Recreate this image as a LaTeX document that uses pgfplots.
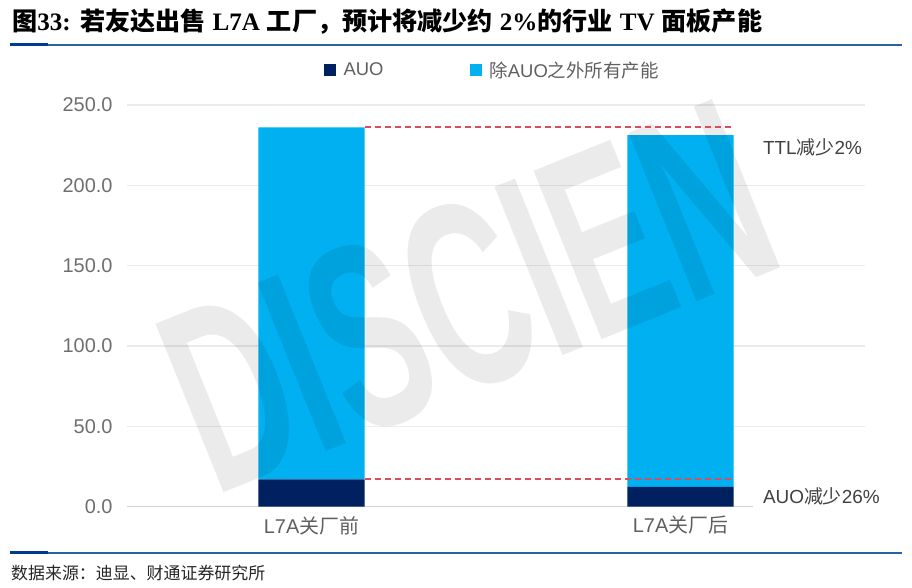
\documentclass[border=0pt]{standalone}
\usepackage{fontspec}
\usepackage{graphicx}
\usepackage{pgfplots}
\pgfplotsset{compat=1.18}
\setmainfont{Liberation Sans}
\newfontfamily\cjk{Noto Sans CJK SC}
\newfontfamily\serifl{Liberation Serif}
\definecolor{navy}{RGB}{0,32,96}
\definecolor{lblue}{RGB}{0,176,240}
\definecolor{dred}{RGB}{222,75,90}
\definecolor{gridgray}{RGB}{235,235,235}
\definecolor{zerogray}{RGB}{210,210,210}
\definecolor{tickgray}{RGB}{110,110,110}
\definecolor{labgray}{RGB}{95,95,95}
\definecolor{annogray}{RGB}{64,64,64}
\definecolor{tblue}{RGB}{40,100,165}
\definecolor{tdblue}{RGB}{0,60,140}
\pgfplotstableread{
x auo other
0 17.0 219.1
1 12.3 219.0
}\capdata
\pgfplotstableread{
x ttl auo
0.144 236.1 17.0
1.144 236.1 17.0
}\refdata
\begin{document}
\begin{tikzpicture}[x=1bp,y=1bp]
\useasboundingbox (0,0) rectangle (912,588);
% title
\node[anchor=base west, inner sep=0] at (12,557) {\fontsize{25.2}{25.2}\selectfont\bfseries
{\cjk 图}{\serifl 33:} {\cjk 若友达出售} {\serifl L7A} {\cjk 工厂，预计将减少约} {\serifl 2\%}{\cjk 的行业} {\serifl TV} {\cjk 面板产能}};
\fill[tblue] (10,542.4) rectangle (902,543.6);
\fill[tdblue] (10,541.5) rectangle (48,544.5);
% footer
\fill[tblue] (10,34.4) rectangle (902,35.6);
\fill[tdblue] (10,33.5) rectangle (48,36.5);
\node[anchor=base west, inner sep=0, text=black!85] at (11,8) {\fontsize{17}{17}\selectfont\cjk 数据来源：迪显、财通证券研究所};
% background axis: zero line
\begin{axis}[at={(127bp,81.3bp)}, anchor=south west, scale only axis,
  width=738bp, height=401.7bp, xmin=-0.5, xmax=1.5, ymin=0, ymax=250,
  hide axis, clip=false]
\addplot[zerogray, line width=1.2bp] coordinates {(-0.5,0) (1.196,0)};
\end{axis}
% bars
\begin{axis}[at={(127bp,81.3bp)}, anchor=south west, scale only axis,
  width=738bp, height=401.7bp, xmin=-0.5, xmax=1.5, ymin=0, ymax=250,
  ybar stacked, bar width=0.288,
  axis line style={draw=none}, major tick length=0pt,
  xtick={0,1}, xticklabels={L7A{\cjk 关厂前}, L7A{\cjk 关厂后}},
  x tick label style={font=\fontsize{20}{20}\selectfont, text=labgray, yshift=-6bp},
  ytick={50,100,...,250}, extra y ticks={0}, extra y tick style={grid=none},
  ymajorgrids, grid style={gridgray, line width=1.1bp},
  scaled y ticks=false,
  yticklabel style={/pgf/number format/.cd, fixed, fixed zerofill, precision=1, /tikz/.cd},
  y tick label style={font=\fontsize{20}{20}\selectfont, text=tickgray, xshift=-11bp},
  /pgf/number format/assume math mode=true,
  legend columns=2,
  legend style={draw=none, fill=none, at={(0.5,1)}, anchor=south, yshift=22bp, xshift=-4bp,
    font=\fontsize{18.5}{18.5}\selectfont, text=labgray,
    /tikz/every even column/.append style={column sep=84bp}},
  legend image code/.code={\fill[#1, draw=none] (0bp,-6bp) rectangle (12bp,6bp); \path (18bp,0bp);},
  clip=false]
\addplot[fill=navy, draw=none] table[x=x, y=auo] {\capdata};
\addlegendentry{AUO}
\addplot[fill=lblue, draw=none] table[x=x, y=other] {\capdata};
\addlegendentry{{\cjk 除}AUO{\cjk 之外所有产能}}
\end{axis}
% watermark
\node[rotate=22, opacity=0.08, text=black, inner sep=0] at (468,292) {\scalebox{0.58}[1]{\fontsize{265}{265}\selectfont\bfseries DISCIEN}};
% overlay: dashed reference lines and notes
\begin{axis}[at={(127bp,81.3bp)}, anchor=south west, scale only axis,
  width=738bp, height=401.7bp, xmin=-0.5, xmax=1.5, ymin=0, ymax=250,
  axis line style={draw=none}, major tick length=0pt, xtick=\empty, ytick=\empty, clip=false]
\addplot[dred, line width=2.2bp, dash pattern=on 6bp off 4bp, mark=none] table[x=x, y=ttl] {\refdata};
\addplot[dred, line width=2.2bp, dash pattern=on 6bp off 4bp, mark=none] table[x=x, y=auo] {\refdata};
\node[anchor=west, inner sep=0, text=annogray, font=\fontsize{19}{19}\selectfont] at (axis cs:1.223,223.8) {TTL{\cjk 减少}2\%};
\node[anchor=west, inner sep=0, text=annogray, font=\fontsize{19}{19}\selectfont] at (axis cs:1.223,6.7) {AUO{\cjk 减少}26\%};
\end{axis}
\end{tikzpicture}
\end{document}
